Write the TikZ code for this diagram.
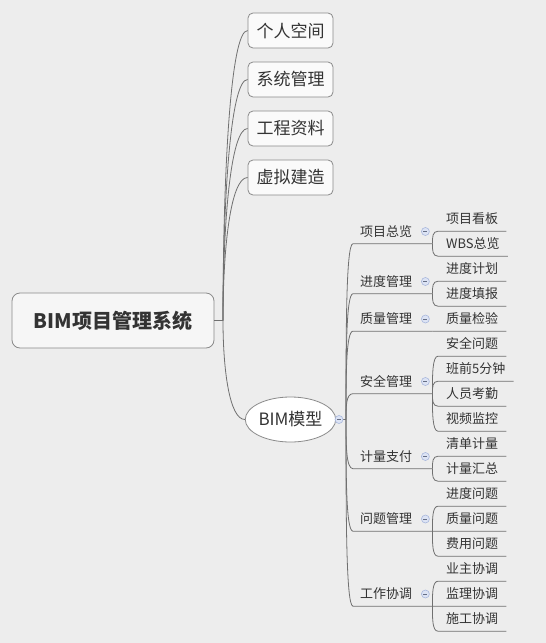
\documentclass[tikz,border=0pt]{standalone}
\usepackage{fontspec}
\setmainfont{Noto Sans CJK SC}
\usetikzlibrary{calc,shapes.geometric}
\definecolor{bg}{HTML}{EDEDED}
\definecolor{txt}{HTML}{333333}
\definecolor{ln}{HTML}{707070}
\definecolor{bx}{HTML}{8A8A8A}
\definecolor{mfill}{HTML}{DCE3F4}
\definecolor{mdraw}{HTML}{A9B8DD}
\tikzset{
  conn/.style={draw=ln, line width=0.8pt},
  curv/.style={to path={.. controls ($(\tikztostart)!0.5!(\tikztostart|-\tikztotarget)$) and ($(\tikztotarget)!1!(\tikztostart|-\tikztotarget)$) .. (\tikztotarget) \tikztonodes}},
  curvR/.style={to path={.. controls ($(\tikztostart)!0.5!(\tikztostart|-\tikztotarget)$) and ($(\tikztotarget)!0.7!(\tikztostart|-\tikztotarget)$) .. (\tikztotarget) \tikztonodes}},
  rootbox/.style={draw=bx, line width=0.8pt, rounded corners=8pt, fill=white!50!bg, minimum width=202pt, minimum height=55pt, inner sep=0pt, text=txt, font=\fontsize{20}{24}\selectfont\bfseries},
  topbox/.style={draw=bx, line width=0.8pt, rounded corners=5pt, fill=white!75!bg, minimum width=85pt, minimum height=35pt, inner sep=0pt, text=txt, font=\fontsize{17}{20}\selectfont},
  ellbox/.style={ellipse, draw=bx, line width=0.8pt, fill=white, minimum width=85pt, minimum height=45pt, inner sep=0pt, text=txt, font=\fontsize{17}{20}\selectfont},
  l2/.style={anchor=west, inner xsep=7pt, inner ysep=5.5pt, text width=65pt, align=left, text height=11.4pt, text depth=1.6pt, text=txt, font=\fontsize{13}{15}\selectfont},
  leaf/.style={anchor=west, inner xsep=8pt, inner ysep=5.5pt, text height=11.4pt, text depth=1.6pt, text=txt, font=\fontsize{13}{15}\selectfont},
  minus/.style={circle, draw=mdraw, fill=mfill, line width=0.6pt, minimum size=8pt, inner sep=0pt,
    path picture={\draw[mdraw!60!black, line width=0.6pt] ([xshift=-2pt]path picture bounding box.center) -- ([xshift=2pt]path picture bounding box.center);}}
}
\begin{document}
\begin{tikzpicture}[x=1pt,y=-1pt]
\fill[bg] (0,0) rectangle (546,643);
\useasboundingbox (0,0) rectangle (546,643);

% root
\node[rootbox] (root) at (113,320.5) {BIM项目管理系统};
\coordinate (rhub) at (223,320.5);

% first level
\node[topbox] (b1) at (290.5,30.5) {个人空间};
\node[topbox] (b2) at (290.5,79.5) {系统管理};
\node[topbox] (b3) at (290.5,128.5) {工程资料};
\node[topbox] (b4) at (290.5,177.5) {虚拟建造};
\node[ellbox] (bim) at (290.5,419.5) {BIM模型};

\draw[conn] (root.east) -- (rhub);
\foreach \n in {b1,b2,b3,b4,bim}
  \draw[conn] (rhub) to[curvR] (\n.west);

% second level
\coordinate (bhub) at (346,419.5);
\draw[conn] (bim.east) -- (bhub);
\node[minus] (mb) at (339,419.5) {};

\foreach \i/\y/\t in {1/231.5/项目总览, 2/281.5/进度管理, 3/319/质量管理, 4/381.5/安全管理, 5/456.5/计量支付, 6/519/问题管理, 7/594/工作协调} {
  \node[l2] (p\i) at (353,\y) {\t};
  \draw[conn] (bhub) to[curv] (p\i.south west) -- (p\i.south east);
  \node[minus] (mp\i) at ([xshift=-7pt]p\i.east) {};
}

% leaves
\foreach \i/\y/\t/\p in {1/219/项目看板/p1, 2/244/WBS总览/p1, 3/269/进度计划/p2, 4/294/进度填报/p2, 5/319/质量检验/p3, 6/344/安全问题/p4, 7/369/班前5分钟/p4, 8/394/人员考勤/p4, 9/419/视频监控/p4, 10/444/清单计量/p5, 11/469/计量汇总/p5, 12/494/进度问题/p6, 13/519/质量问题/p6, 14/544/费用问题/p6, 15/569/业主协调/p7, 16/594/监理协调/p7, 17/619/施工协调/p7} {
  \node[leaf] (c\i) at (438,\y) {\t};
  \draw[conn] (\p.south east) to[curv] (c\i.south west) -- (c\i.south east);
}
\end{tikzpicture}
\end{document}
